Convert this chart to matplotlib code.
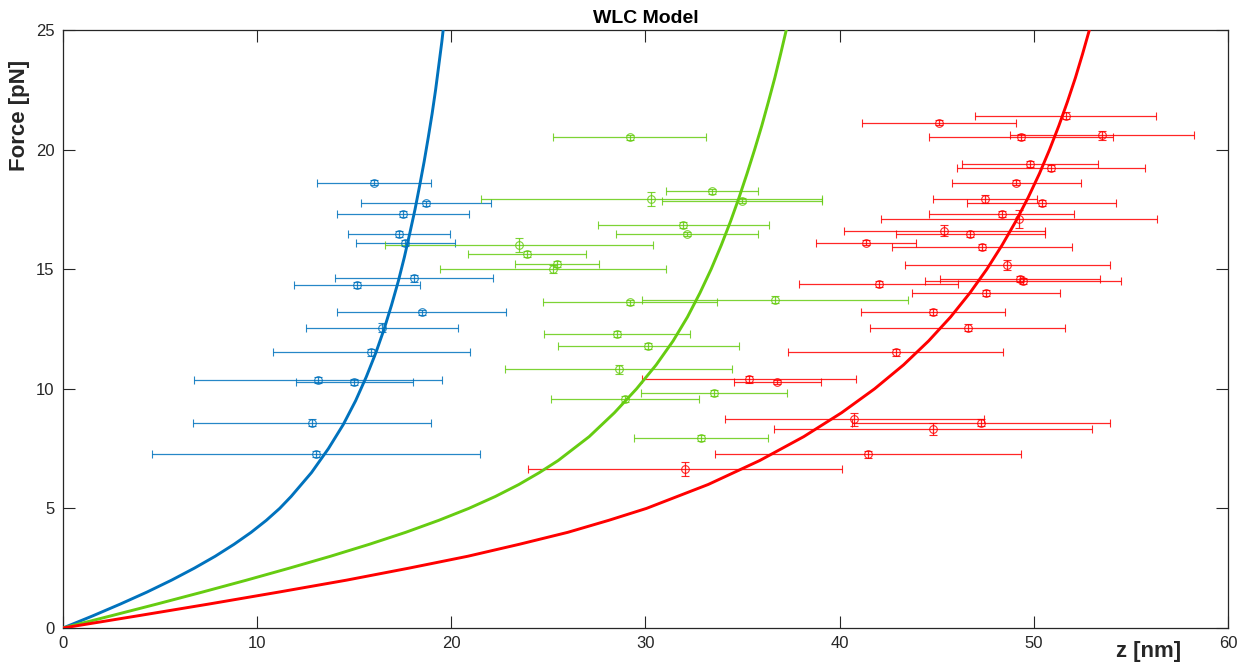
import matplotlib
matplotlib.use("Agg")
import matplotlib.pyplot as plt

plt.rcParams['font.family'] = ['Liberation Sans', 'DejaVu Sans']

# ---- measured force-extension points (z in nm, force in pN) ----
blue_z = [16.02, 18.71, 17.49, 17.32, 17.63, 18.06, 15.15, 18.47, 16.41, 15.88, 13.13, 15.00, 12.82, 13.04]
blue_f = [18.62, 17.75, 17.31, 16.47, 16.10, 14.62, 14.35, 13.19, 12.56, 11.52, 10.38, 10.28, 8.58, 7.27]
blue_zerr = [2.94, 3.34, 3.40, 2.63, 2.56, 4.07, 3.23, 4.35, 3.92, 5.06, 6.38, 3.01, 6.12, 8.44]
blue_ferr = [0.12, 0.12, 0.12, 0.12, 0.12, 0.14, 0.12, 0.12, 0.20, 0.14, 0.12, 0.12, 0.14, 0.14]

green_z = [29.19, 33.44, 30.29, 34.96, 31.94, 32.15, 23.49, 23.90, 25.45, 25.24,
           29.19, 36.66, 28.54, 30.15, 28.62, 33.52, 28.92, 32.87]
green_f = [20.51, 18.26, 17.94, 17.87, 16.85, 16.47, 16.01, 15.63, 15.22, 15.01,
           13.61, 13.72, 12.29, 11.79, 10.81, 9.81, 9.57, 7.95]
green_zerr = [3.95, 2.36, 8.78, 4.12, 4.40, 3.66, 6.91, 3.06, 2.18, 5.81,
              4.47, 6.86, 3.77, 4.66, 5.85, 3.76, 3.81, 3.44]
green_ferr = [0.12, 0.10, 0.30, 0.12, 0.12, 0.10, 0.30, 0.12, 0.12, 0.18,
              0.12, 0.14, 0.14, 0.12, 0.18, 0.12, 0.12, 0.12]

red_z = [51.64, 45.10, 49.34, 53.51, 49.79, 50.90, 49.09, 47.49, 50.41, 48.34,
         49.25, 45.39, 46.73, 41.36, 47.33, 48.63, 49.30, 49.43, 42.01, 47.55,
         44.82, 46.60, 42.89, 35.32, 36.78, 40.76, 47.27, 44.82, 41.46, 32.03]
red_f = [21.42, 21.13, 20.52, 20.59, 19.40, 19.22, 18.62, 17.94, 17.76, 17.31,
         17.10, 16.61, 16.46, 16.10, 15.93, 15.18, 14.59, 14.51, 14.37, 13.99,
         13.21, 12.56, 11.53, 10.39, 10.28, 8.72, 8.58, 8.31, 7.27, 6.64]
red_zerr = [4.66, 3.97, 4.76, 4.76, 3.51, 4.84, 3.33, 2.66, 3.84, 3.72,
            7.11, 5.18, 3.82, 2.56, 4.65, 5.27, 4.12, 5.05, 4.11, 3.80,
            3.72, 5.02, 5.53, 5.51, 2.24, 6.65, 6.65, 8.20, 7.90, 8.08]
red_ferr = [0.14, 0.12, 0.12, 0.18, 0.12, 0.12, 0.10, 0.18, 0.12, 0.12,
            0.36, 0.22, 0.12, 0.10, 0.12, 0.20, 0.12, 0.14, 0.12, 0.12,
            0.12, 0.14, 0.14, 0.14, 0.10, 0.28, 0.14, 0.25, 0.15, 0.30]

# ---- WLC model curves (force in pN, extension in nm) ----
blue_curve_f = [0, 0.5, 1, 1.5, 2, 2.5, 3, 3.5, 4, 4.5, 5, 5.5, 6.5, 7.5, 8.5, 9.5,
                10.5, 11.5, 12.5, 13.5, 14.5, 15.5, 16.5, 17.5, 18.5, 19.5, 20.5,
                21.5, 22.5, 23.5, 24.5, 25]
blue_curve_z = [0, 1.51, 2.95, 4.32, 5.59, 6.76, 7.84, 8.81, 9.69, 10.47, 11.16, 11.75,
                12.80, 13.67, 14.43, 15.07, 15.62, 16.11, 16.54, 16.92, 17.27, 17.58,
                17.86, 18.13, 18.37, 18.60, 18.81, 19.01, 19.19, 19.35, 19.51, 19.58]

green_curve_f = [0, 0.5, 1, 1.5, 2, 2.5, 3, 3.5, 4, 4.5, 5, 5.5, 6, 6.5, 7, 8, 9, 10,
                 11, 12, 13, 14, 15, 16, 17, 18, 19, 20, 21, 22, 23, 24, 25]
green_curve_z = [0, 2.43, 4.83, 7.17, 9.45, 11.65, 13.78, 15.78, 17.65, 19.35, 20.90,
                 22.27, 23.48, 24.54, 25.50, 27.10, 28.40, 29.54, 30.55, 31.42, 32.16,
                 32.80, 33.38, 33.90, 34.38, 34.82, 35.23, 35.62, 35.99, 36.33, 36.66,
                 36.96, 37.25]

red_curve_f = [0, 0.5, 1, 1.5, 2, 2.5, 3, 3.5, 4, 4.5, 5, 6, 7, 8, 9, 10, 11, 12, 13,
               14, 15, 16, 17, 18, 19, 20, 21, 22, 23, 24, 25]
red_curve_z = [0, 3.78, 7.50, 11.10, 14.60, 17.80, 20.85, 23.50, 26.00, 28.10, 30.05,
               33.23, 35.88, 38.15, 40.10, 41.80, 43.29, 44.58, 45.71, 46.70, 47.58,
               48.36, 49.07, 49.71, 50.29, 50.81, 51.29, 51.73, 52.14, 52.51, 52.86]

x_ticks = [0, 10, 20, 30, 40, 50, 60]
y_ticks = [0, 5, 10, 15, 20, 25]

BLUE = '#0072BD'
GREEN = '#66CC11'
RED = '#FF0000'

W, H = 1249, 665
fig = plt.figure(figsize=(W / 100, H / 100), dpi=100)
ax = fig.add_axes([63 / W, 1 - 628 / H, (1228 - 63) / W, (628 - 30) / H])

series = [
    (blue_z, blue_f, blue_zerr, blue_ferr, blue_curve_z, blue_curve_f, BLUE),
    (green_z, green_f, green_zerr, green_ferr, green_curve_z, green_curve_f, GREEN),
    (red_z, red_f, red_zerr, red_ferr, red_curve_z, red_curve_f, RED),
]

for z, f, zerr, ferr, cz, cf, col in series:
    ax.errorbar(z, f, xerr=zerr, yerr=ferr, fmt='o', mfc='none', mec=col,
                ms=5.5, mew=0.8, ecolor=col, elinewidth=0.9, capsize=3,
                capthick=0.9, alpha=0.85, zorder=2)
for z, f, zerr, ferr, cz, cf, col in series:
    ax.plot(cz, cf, color=col, lw=2.1, zorder=3, solid_joinstyle='round')

ax.set_xlim(0, 60)
ax.set_ylim(0, 25)
ax.set_xticks(x_ticks)
ax.set_yticks(y_ticks)
ax.tick_params(direction='in', length=8.5, width=0.8, colors='#262626',
               labelsize=12, top=True, right=True, pad=6)
for s in ax.spines.values():
    s.set_color('#262626')
    s.set_linewidth(0.9)

ax.set_title('WLC Model', fontsize=14, fontweight='bold', pad=5, color='black')
fig.text(20 / W, 1 - 115 / H, 'Force [pN]', rotation=90, ha='center', va='center',
         fontsize=16, fontweight='bold', color='#262626')
fig.text(1149 / W, 1 - 651 / H, 'z [nm]', ha='center', va='center',
         fontsize=16, fontweight='bold', color='#262626')

fig.savefig('out.png', dpi=100, facecolor='white')
